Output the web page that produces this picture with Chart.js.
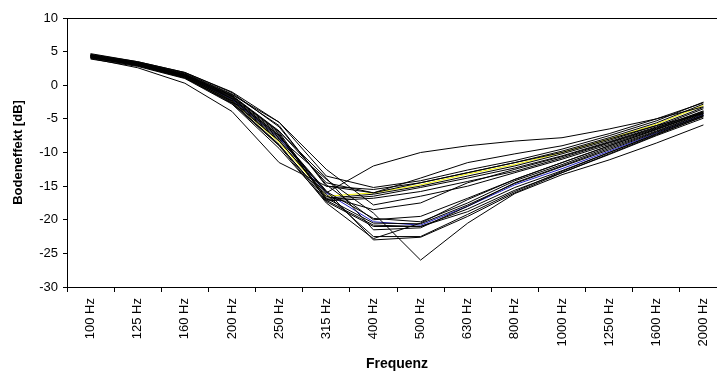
<!DOCTYPE html>
<html>
<head>
<meta charset="utf-8">
<script src="https://cdn.jsdelivr.net/npm/chart.js@4/dist/chart.umd.min.js"></script>
<style>
  html, body { margin: 0; padding: 0; background: #fff; overflow: hidden; }
  #chart-box { display: block; }
</style>
</head>
<body>
<canvas id="chart-box" width="730" height="374"></canvas>
<script>
// categories (third-octave bands)
const freqLabels = ["100 Hz", "125 Hz", "160 Hz", "200 Hz", "250 Hz", "315 Hz", "400 Hz",
  "500 Hz", "630 Hz", "800 Hz", "1000 Hz", "1250 Hz", "1600 Hz", "2000 Hz"];

// y axis ticks
const yTicks = [10, 5, 0, -5, -10, -15, -20, -25, -30];

const m01 = [4.3, 3.2, 1.5, -1.8, -7.5, -16.0, -12.0, -10.0, -9.0, -8.3, -7.8, -6.5, -5.0, -3.2];
const m02 = [4.4, 3.3, 1.4, -2.0, -7.8, -14.0, -19.0, -26.0, -20.5, -16.1, -13.3, -11.1, -8.6, -5.9];
const m03 = [4.0, 2.6, 0.3, -3.9, -11.5, -15.0, -16.0, -14.5, -13.0, -11.5, -10.0, -8.0, -6.0, -4.2];
const m04 = [4.7, 3.5, 1.9, -1.0, -5.5, -13.5, -15.2, -14.2, -12.6, -11.2, -9.5, -7.5, -5.3, -2.5];
const m05 = [4.5, 3.4, 1.8, -1.3, -6.0, -15.0, -15.5, -14.5, -13.0, -11.5, -9.8, -7.8, -5.6, -2.8];
const m06 = [4.2, 3.0, 1.2, -2.3, -8.5, -16.5, -16.0, -14.8, -13.2, -11.8, -10.0, -8.0, -5.8, -3.0];
const m07 = [4.4, 3.3, 1.6, -1.6, -7.0, -16.8, -16.2, -15.0, -13.5, -12.0, -10.2, -8.2, -6.0, -3.3];
const m08 = [4.3, 3.2, 1.5, -1.9, -7.4, -17.0, -16.5, -15.2, -13.8, -12.3, -10.5, -8.4, -6.2, -3.5];
const m09 = [4.1, 2.9, 1.1, -2.5, -8.8, -17.2, -16.8, -15.8, -14.3, -12.8, -10.8, -8.6, -6.4, -3.8];
const m10 = [4.5, 3.4, 1.7, -1.4, -5.5, -12.5, -17.8, -16.5, -15.0, -13.0, -11.0, -8.8, -6.5, -4.0];
const m11 = [4.2, 3.1, 1.3, -2.2, -8.0, -15.8, -19.8, -20.3, -17.5, -14.2, -11.8, -9.2, -6.8, -4.2];
const m12 = [4.3, 3.1, 1.4, -2.1, -7.8, -16.0, -20.3, -20.8, -18.0, -14.8, -12.4, -9.8, -7.1, -4.4];
const m13 = [4.1, 3.0, 1.2, -2.6, -8.9, -16.8, -20.5, -20.6, -17.8, -14.6, -12.1, -9.6, -7.0, -4.5];
const m14 = [4.4, 3.2, 1.5, -1.7, -7.2, -17.1, -20.8, -21.0, -18.4, -15.2, -12.7, -10.0, -7.3, -4.7];
const m15 = [3.9, 2.8, 1.0, -2.8, -9.4, -17.3, -21.0, -21.0, -18.8, -15.6, -13.0, -10.3, -7.5, -4.9];
const m16 = [4.6, 3.5, 1.9, -1.1, -6.2, -14.8, -20.0, -19.5, -16.8, -14.0, -11.5, -9.0, -6.6, -4.1];
const m17 = [4.2, 3.0, 1.3, -2.4, -8.3, -16.2, -22.5, -22.5, -19.2, -15.8, -12.8, -10.0, -7.2, -4.5];
const m18 = [4.3, 3.1, 1.4, -2.0, -7.6, -15.7, -23.0, -22.6, -19.5, -16.0, -13.0, -10.2, -7.4, -4.6];
const m19 = [4.1, 2.9, 1.1, -2.7, -9.0, -17.5, -22.8, -20.5, -17.0, -14.0, -11.5, -9.0, -6.6, -4.0];
const m20 = [4.5, 3.3, 1.6, -1.5, -6.8, -14.5, -16.0, -13.8, -11.5, -10.2, -9.0, -7.2, -5.0, -2.6];
const m21 = [4.2, 3.0, 1.3, -2.3, -8.2, -16.5, -18.5, -17.5, -14.5, -12.5, -10.6, -8.5, -6.3, -3.9];
const m22 = [4.4, 3.3, 1.6, -1.6, -6.9, -13.8, -21.5, -21.2, -18.0, -14.5, -12.0, -9.4, -6.9, -4.3];

const seriesList = [m01, m02, m03, m04, m05, m07, m08, m09, m10, m11, m13, m14, m15, m16,
  m17, m18, m19, m20, m21, m22, m06, m12];
// the two coloured measurements go last, so the black lines are drawn over them
const seriesColors = seriesList.map(function (s) {
  if (s === m06) return "#f0f000";
  if (s === m12) return "#2020c0";
  return "#000000";
});

// black frame around the plot area
const frame = {
  id: "frame",
  afterDraw: function (chart) {
    const a = chart.chartArea;
    const ctx = chart.ctx;
    ctx.save();
    ctx.strokeStyle = "#000";
    ctx.lineWidth = 1;
    ctx.strokeRect(Math.round(a.left) + 0.5, Math.round(a.top) + 0.5,
      Math.round(a.right - a.left), Math.round(a.bottom - a.top));
    ctx.restore();
  }
};

var ctx = document.getElementById("chart-box").getContext("2d");
var chart = new Chart(ctx, {
  type: "line",
  data: {
    labels: freqLabels,
    datasets: seriesList.map(function (s, i) {
      return {
        label: "M" + (i + 1),
        data: s,
        borderColor: seriesColors[i],
        borderWidth: 1,
        pointRadius: 0,
        tension: 0,
        fill: false
      };
    })
  },
  options: {
    responsive: false,
    animation: false,
    layout: { padding: { top: 18, right: 3, left: 0, bottom: 0 } },
    plugins: {
      legend: { display: false },
      tooltip: { enabled: false }
    },
    scales: {
      x: {
        offset: true,
        grid: { offset: true, drawOnChartArea: false, drawTicks: true, tickLength: 5, color: "#000" },
        border: { color: "#000", width: 1 },
        ticks: {
          color: "#000",
          font: { family: "Liberation Sans, Arial", size: 13 },
          minRotation: 90,
          maxRotation: 90,
          padding: 6
        },
        title: {
          display: true,
          text: "Frequenz",
          color: "#000",
          font: { family: "Liberation Sans, Arial", size: 14, weight: "bold" },
          padding: { top: 2, bottom: 1 }
        },
        afterFit: function (scale) { scale.height = 87; }
      },
      y: {
        min: -30,
        max: 10,
        afterBuildTicks: function (scale) {
          scale.ticks = yTicks.map(function (v) { return { value: v }; });
        },
        grid: { drawOnChartArea: false, drawTicks: true, tickLength: 4, color: "#000" },
        border: { color: "#000", width: 1 },
        ticks: {
          color: "#000",
          font: { family: "Liberation Sans, Arial", size: 13 },
          padding: 5
        },
        title: {
          display: true,
          text: "Bodeneffekt [dB]",
          color: "#000",
          font: { family: "Liberation Sans, Arial", size: 13, weight: "bold" },
          padding: { top: 11, bottom: 4 }
        },
        afterFit: function (scale) { scale.width = 67; }
      }
    }
  },
  plugins: [frame]
});
</script>
</body>
</html>
